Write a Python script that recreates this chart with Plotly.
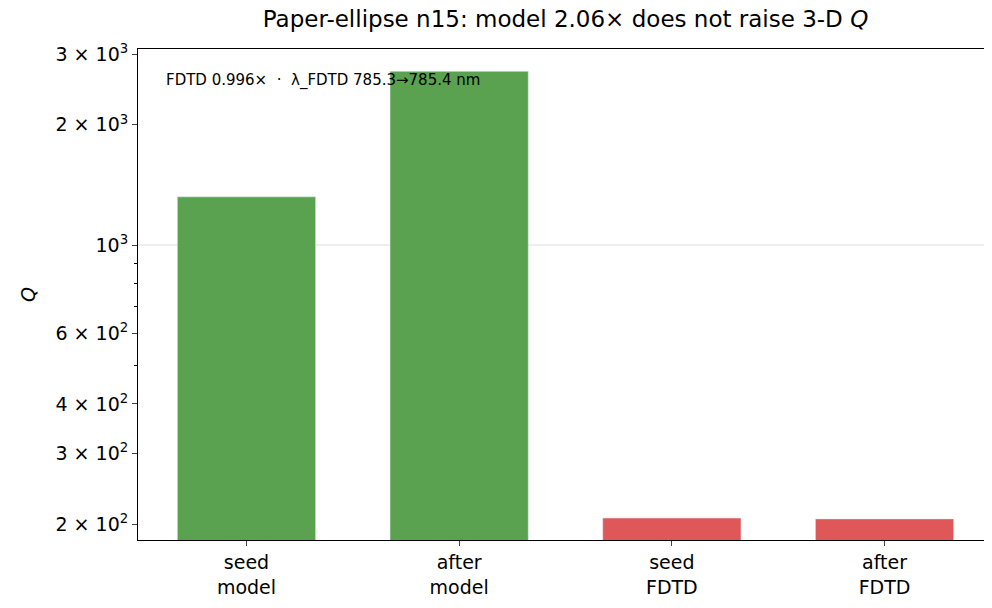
import plotly.graph_objects as go

categories = ["seed<br>model", "after<br>model", "seed<br>FDTD", "after<br>FDTD"]
q_values = [1320, 2723, 207, 206]
bar_colors = ["#5aa150", "#5aa150", "#e05759", "#e05759"]
tick_vals = [200, 300, 400, 600, 1000, 2000, 3000]
tick_text = ["2 × 10<sup>2</sup>", "3 × 10<sup>2</sup>", "4 × 10<sup>2</sup>", "6 × 10<sup>2</sup>",
             "10<sup>3</sup>", "2 × 10<sup>3</sup>", "3 × 10<sup>3</sup>"]
minor_vals = [500, 700, 800, 900]

fig = go.Figure(go.Bar(
    x=list(range(len(categories))), y=q_values, marker_color=bar_colors, width=0.65,
))
for i, v in enumerate(q_values):
    fig.add_annotation(x=i, y=v, text=str(v), showarrow=False, yanchor="bottom", yshift=8,
                       font=dict(size=15, color="black"))
fig.add_hline(y=1000, line=dict(color="#dddddd", width=1), layer="below")
fig.update_layout(
    width=992, height=608, plot_bgcolor="white", paper_bgcolor="white",
    margin=dict(l=130, r=7, t=41, b=76, autoexpand=False),
    font=dict(family="DejaVu Sans", size=17, color="black"),
    title=dict(text="Paper-ellipse n15: model 2.06× does not raise 3-D <i>Q</i>",
               x=0.5, xref="paper", y=0.995, yanchor="top", font=dict(size=23)),
    showlegend=False,
)
fig.add_annotation(text="FDTD 0.996×  ·  λ_FDTD 785.3→785.4 nm", xref="paper", yref="paper",
                   x=0.03, y=0.935, xanchor="left", yanchor="middle", showarrow=False,
                   font=dict(size=15))
fig.update_xaxes(tickvals=list(range(len(categories))), ticktext=categories, range=[-0.51, 3.51],
                 showline=True, linecolor="black", mirror=True, ticks="outside", ticklen=5,
                 showgrid=False, tickfont=dict(size=19), automargin=False)
fig.update_yaxes(type="log", range=[2.261, 3.491], tickvals=tick_vals, ticktext=tick_text,
                 showline=True, linecolor="black", mirror=True, ticks="outside", ticklen=5,
                 showgrid=False, title=dict(text="<i>Q</i>", standoff=14, font=dict(size=19)),
                 tickfont=dict(size=19), automargin=False,
                 minor=dict(tickvals=minor_vals, ticks="outside", ticklen=3, tickcolor="black"))
fig.write_html("out.html")
